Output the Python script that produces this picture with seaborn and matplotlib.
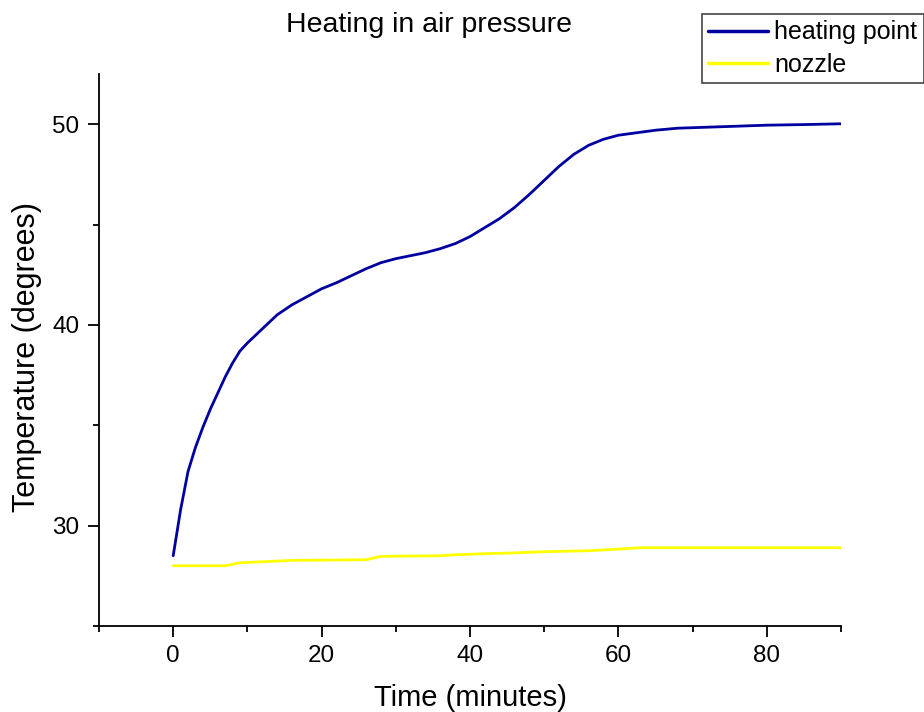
import numpy as np
import pandas as pd
import matplotlib
matplotlib.use("Agg")
import matplotlib.pyplot as plt
from matplotlib.ticker import MultipleLocator
import seaborn as sns

# ---- data ----
heat_time = [0, 1, 2, 3, 4, 5, 6, 7, 8, 9, 10, 12, 14, 16, 18, 20, 22, 24, 26, 28,
             30, 32, 34, 36, 38, 40, 42, 44, 46, 48, 50, 52, 54, 56, 58, 60, 62,
             65, 68, 72, 76, 80, 85, 90]
heat_temp = [28.5, 30.8, 32.7, 33.9, 34.9, 35.8, 36.6, 37.4, 38.1, 38.7, 39.1, 39.8,
             40.5, 41.0, 41.4, 41.8, 42.1, 42.45, 42.8, 43.1, 43.3, 43.45, 43.6, 43.8,
             44.05, 44.4, 44.85, 45.3, 45.85, 46.5, 47.2, 47.9, 48.5, 48.95, 49.25,
             49.45, 49.55, 49.7, 49.8, 49.85, 49.9, 49.95, 49.98, 50.02]
nozzle_time = [0, 7, 9, 15, 16, 26, 28, 36, 38, 42, 45, 50, 56, 60, 63, 90]
nozzle_temp = [28.0, 28.0, 28.15, 28.25, 28.27, 28.3, 28.47, 28.5, 28.55, 28.6,
               28.63, 28.7, 28.75, 28.83, 28.9, 28.9]
series_names = ["heating point", "nozzle"]
series_colors = ["#0000A0", "#FFFF00"]

df = pd.concat([
    pd.DataFrame({"Time": heat_time, "Temp": heat_temp, "series": series_names[0]}),
    pd.DataFrame({"Time": nozzle_time, "Temp": nozzle_temp, "series": series_names[1]}),
], ignore_index=True)

sns.set_theme(style="ticks")
plt.rcParams["font.family"] = ["Liberation Sans", "DejaVu Sans"]
plt.rcParams["text.color"] = "black"
plt.rcParams["axes.labelcolor"] = "black"
plt.rcParams["xtick.color"] = "black"
plt.rcParams["ytick.color"] = "black"

W, H = 924, 712
fig = plt.figure(figsize=(W / 100, H / 100), dpi=100)
ax = fig.add_axes([99 / W, 1 - 626 / H, (841 - 99) / W, (626 - 74) / H])

sns.lineplot(data=df, x="Time", y="Temp", hue="series", hue_order=series_names,
             palette=dict(zip(series_names, series_colors)), linewidth=2.0,
             estimator=None, sort=True, ax=ax, legend=False)

ax.set_xlim(-10, 90)
ax.set_ylim(25, 52.5)
ax.xaxis.set_minor_locator(MultipleLocator(10))
ax.yaxis.set_minor_locator(MultipleLocator(5))
ax.set_xticks([0, 20, 40, 60, 80])
ax.set_yticks([30, 40, 50])

for s in ["top", "right"]:
    ax.spines[s].set_visible(False)
for s in ["left", "bottom"]:
    ax.spines[s].set_color("black")
    ax.spines[s].set_linewidth(1.3)

ax.tick_params(which="major", direction="out", length=8, width=1.3, colors="black",
               labelcolor="black", labelsize=17.5, pad=6)
ax.tick_params(which="minor", direction="out", length=4.5, width=1.3, colors="black")

ax.set_xlabel("Time (minutes)", fontsize=21, labelpad=12, color="black")
ax.set_ylabel("Temperature (degrees)", fontsize=22, color="black")
ax.yaxis.set_label_coords(-0.077, 0.487)

fig.text(429 / W, 1 - 25 / H, "Heating in air pressure", fontsize=20.5,
         ha="center", va="center", color="black")

handles = [plt.Line2D([], [], color=c, lw=2.5) for c in series_colors]
leg = fig.legend(handles, series_names, loc="upper left",
                 bbox_to_anchor=(702 / W, 1 - 14 / H), fontsize=18,
                 frameon=True, fancybox=False, framealpha=1, edgecolor="#444444",
                 borderpad=0.25, labelspacing=0.35, handlelength=2.4,
                 handletextpad=0.25, borderaxespad=0)
leg.get_frame().set_linewidth(1.2)
for t in leg.get_texts():
    t.set_color("black")

fig.savefig("out.png", dpi=100)
